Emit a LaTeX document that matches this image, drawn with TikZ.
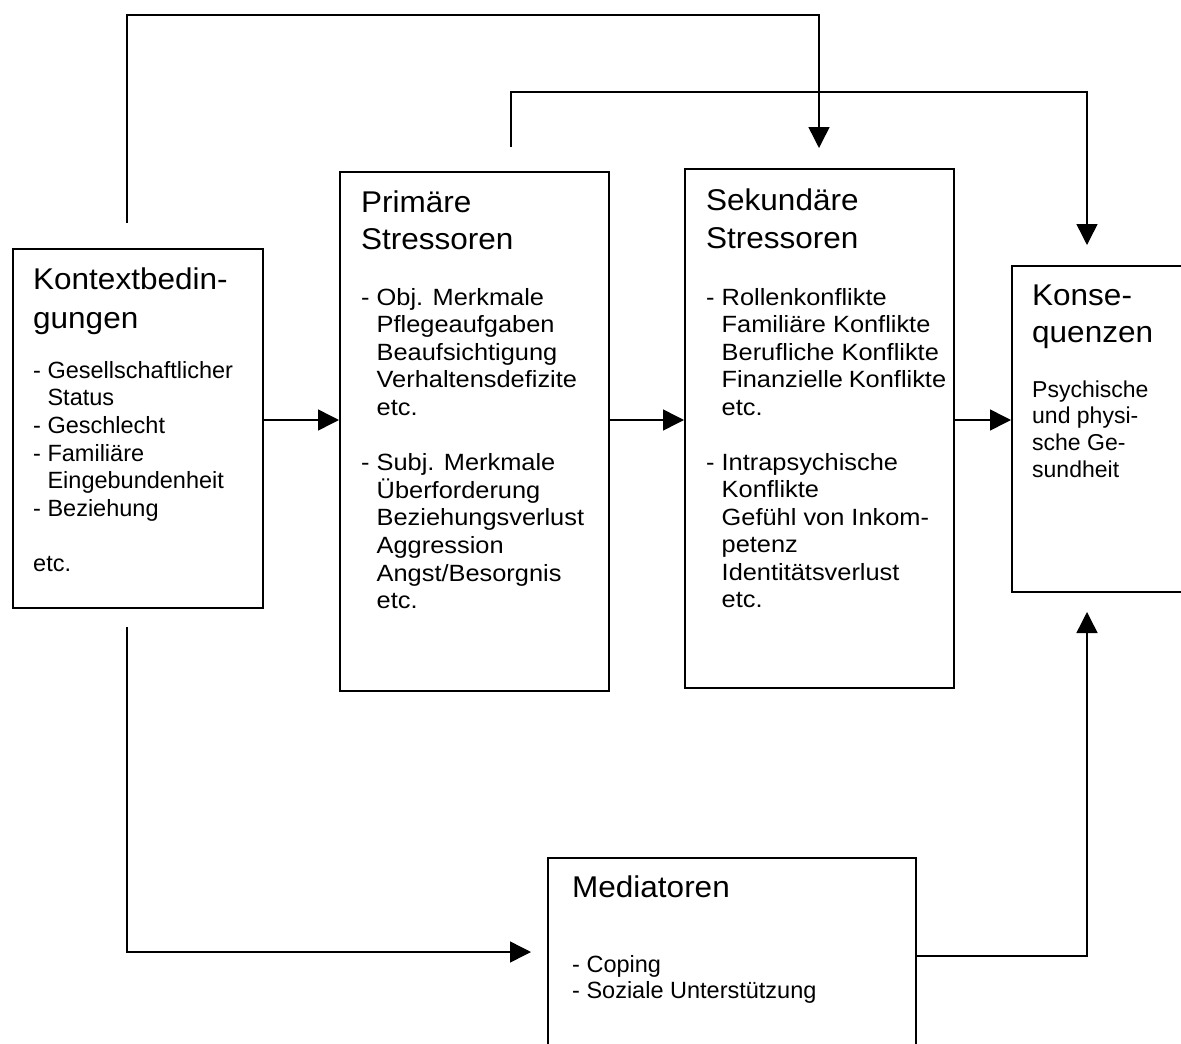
\documentclass[tikz,border=0pt]{standalone}
\usepackage{fontspec}
\setmainfont{Liberation Sans}
\newfontfamily\fT[FakeStretch=1.05]{Liberation Sans}
\newfontfamily\fW[FakeStretch=1.08]{Liberation Sans}
\usetikzlibrary{arrows.meta}
\newcommand\hind{\hphantom{- }}
\begin{document}
\begin{tikzpicture}[x=1pt,y=-1pt,
  box/.style={draw, line width=1.5pt, rectangle, inner sep=0pt, anchor=north west},
  conn/.style={line width=1.5pt},
  arr/.style={line width=1.5pt, -{Triangle[length=21pt,width=21pt]}},
  txt/.style={anchor=base west, inner sep=0pt}]
\useasboundingbox (0,0) rectangle (1181,1044);
\clip (0,0) rectangle (1181,1044);
% boxes
\node[box, minimum width=250pt, minimum height=359pt] (k) at (12,248) {};
\node[box, minimum width=269pt, minimum height=519pt] (p) at (339,171) {};
\node[box, minimum width=269pt, minimum height=519pt] (s) at (684,168) {};
\node[box, minimum width=220pt, minimum height=326pt] (c) at (1011,265) {};
\node[box, minimum width=368pt, minimum height=260pt] (m) at (547,857) {};
% Kontext
\node[txt] (kt) at (33,289) {\parbox[t]{228pt}{\fT\fontsize{30}{39}\selectfont Kontextbedin-\\gungen}};
\node[txt] (kb) at (33,378) {\parbox[t]{228pt}{\fontsize{23.5}{27.7}\selectfont
- Gesellschaftlicher\\\hind Status\\- Geschlecht\\- Familiäre\\\hind Eingebundenheit\\- Beziehung\\[27.7pt]etc.}};
% Primary
\node[txt] (pt) at (361,212) {\parbox[t]{240pt}{\fT\fontsize{30}{37}\selectfont Primäre\\Stressoren}};
\node[txt] (pb) at (361,305) {\parbox[t]{240pt}{\fW\fontsize{23.5}{27.6}\selectfont
- Obj. Merkmale\\\hind Pflegeaufgaben\\\hind Beaufsichtigung\\\hind Verhaltensdefizite\\\hind etc.\\[27.6pt]- Subj. Merkmale\\\hind Überforderung\\\hind Beziehungsverlust\\\hind Aggression\\\hind Angst/Besorgnis\\\hind etc.}};
% Secondary
\node[txt] (st) at (706,210) {\parbox[t]{240pt}{\fT\fontsize{30}{38}\selectfont Sekundäre\\Stressoren}};
\node[txt] (sb) at (706,305) {\parbox[t]{240pt}{\fW\fontsize{23.5}{27.5}\selectfont
- Rollenkonflikte\\\hind Familiäre Konflikte\\\hind Berufliche Konflikte\\\hind Finanzielle Konflikte\\\hind etc.\\[27.5pt]- Intrapsychische\\\hind Konflikte\\\hind Gefühl von Inkom-\\\hind petenz\\\hind Identitätsverlust\\\hind etc.}};
% Konsequenzen
\node[txt] (ct) at (1032,305) {\parbox[t]{150pt}{\fT\fontsize{30}{37}\selectfont Konse-\\quenzen}};
\node[txt] (cb) at (1032,397) {\parbox[t]{150pt}{\fontsize{23}{26.7}\selectfont
Psychische\\und physi-\\sche Ge-\\sundheit}};
% Mediatoren
\node[txt] (mt) at (572,897) {\parbox[t]{300pt}{\fT\fontsize{30}{37}\selectfont Mediatoren}};
\node[txt] (mb) at (572,972) {\parbox[t]{300pt}{\fontsize{23.5}{26}\selectfont
- Coping\\- Soziale Unterstützung}};
% connectors
\coordinate (a1) at (0,420);
\draw[arr] (k.east |- a1) -- (p.west |- a1);
\draw[arr] (p.east |- a1) -- (s.west |- a1);
\draw[arr] (s.east |- a1) -- (c.west |- a1);
\coordinate (t0) at (127,223);
\coordinate (t3) at (819,148);
\draw[arr] (t0) -- (127,15) -- (819,15) -- (t3);
\coordinate (u0) at (511,147);
\coordinate (u3) at (1087,245);
\draw[arr] (u0) -- (511,92) -- (1087,92) -- (u3);
\coordinate (d0) at (127,627);
\coordinate (d3) at (531,952);
\draw[arr] (d0) -- (127,952) -- (d3);
\coordinate (b1) at (0,956);
\coordinate (b3) at (1087,612);
\draw[arr] (m.east |- b1) -- (1087,956) -- (b3);
\end{tikzpicture}
\end{document}
